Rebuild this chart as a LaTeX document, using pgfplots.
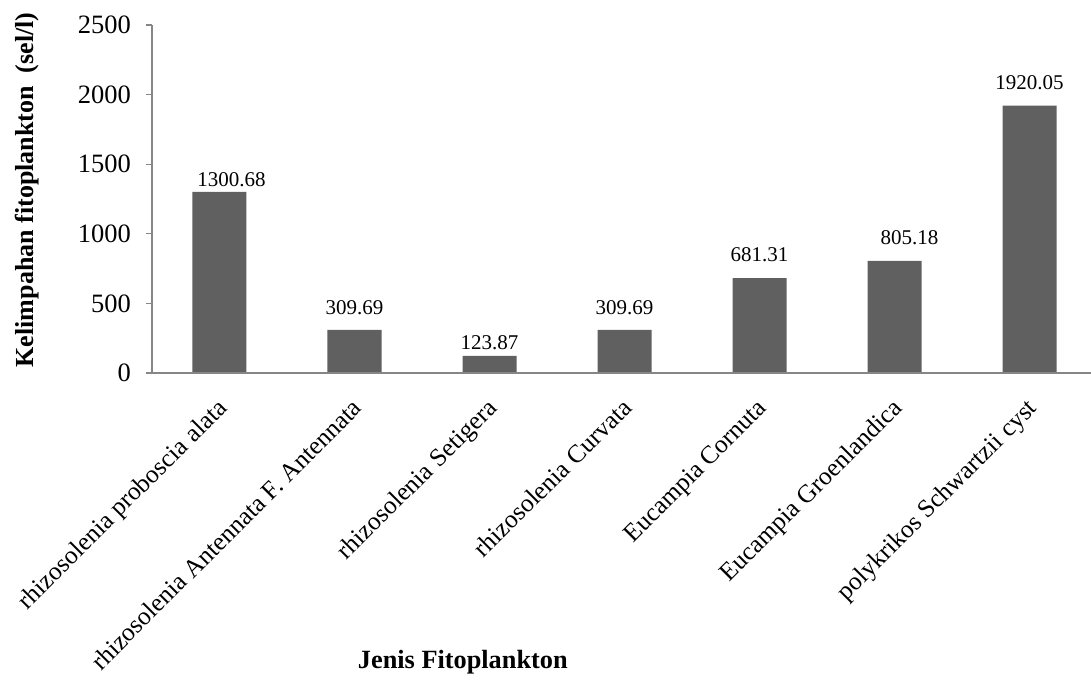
\documentclass[border=0pt]{standalone}
\usepackage{fontspec}
\setmainfont{Liberation Serif}
\usepackage{pgfplots}
\usepackage{pgfplotstable}
\pgfplotsset{compat=1.18}

\definecolor{barfill}{RGB}{96,96,96}
\definecolor{axisgray}{RGB}{134,134,134}

% abundance per species; dx/dy place each value label
\pgfplotstableread{
idx value dx dy
0 1300.68 12 5
1 309.69 0 15
2 123.87 0 6
3 309.69 0 15
4 681.31 0 16
5 805.18 15 16
6 1920.05 0 16
}\abundance

\begin{document}
\begin{tikzpicture}
\begin{axis}[
  at={(0,0)}, anchor=south west,
  scale only axis, width=939bp, height=348bp,
  xmin=-0.5, xmax=6.4556, ymin=0, ymax=2500,
  axis x line*=bottom, axis y line*=left,
  axis on top,
  axis line style={axisgray, line width=1.5bp},
  xtick=data,
  xticklabels={rhizosolenia proboscia alata,
               rhizosolenia Antennata F. Antennata,
               rhizosolenia Setigera,
               rhizosolenia Curvata,
               Eucampia Cornuta,
               Eucampia Groenlandica,
               polykrikos Schwartzii cyst},
  x tick style={draw=none},
  xticklabel style={font=\fontsize{25.4bp}{30bp}\selectfont, inner sep=0pt,
                    xshift=-4bp, yshift=-24bp, rotate=45, anchor=north east},
  ytick={0,500,1000,1500,2000,2500},
  ytick align=outside, major tick length=6bp,
  y tick style={axisgray, line width=1.2bp},
  scaled y ticks=false,
  /pgf/number format/assume math mode=true,
  /pgf/number format/1000 sep={},
  yticklabel style={font=\fontsize{26.5bp}{30bp}\selectfont, inner sep=0pt,
                    anchor=east, xshift=-15bp},
  xlabel={\textbf{Jenis Fitoplankton}},
  xlabel style={font=\fontsize{26.3bp}{30bp}\selectfont,
                at={([yshift=-289bp]rel axis cs:0.331,0)}, anchor=center},
  ylabel={\textbf{Kelimpahan fitoplankton\ \ (sel/l)}},
  ylabel style={font=\fontsize{26bp}{30bp}\selectfont,
                at={([xshift=-125bp]rel axis cs:0,0.526)}, anchor=center},
]
\addplot[ybar, bar width=54bp, bar shift=0pt, fill=barfill, draw=none,
  point meta=explicit symbolic,
  visualization depends on={\thisrow{dx} \as \dx},
  visualization depends on={\thisrow{dy} \as \dy},
  nodes near coords,
  every node near coord/.append style={font=\fontsize{21bp}{24bp}\selectfont,
      inner sep=0pt, anchor=south, xshift=\dx bp, yshift=\dy bp, text=black},
] table[x=idx, y=value, meta=value] {\abundance};
\end{axis}
\pgfresetboundingbox
\path[use as bounding box] (-152bp,-309bp) rectangle (939bp,373bp);
\end{tikzpicture}
\end{document}
